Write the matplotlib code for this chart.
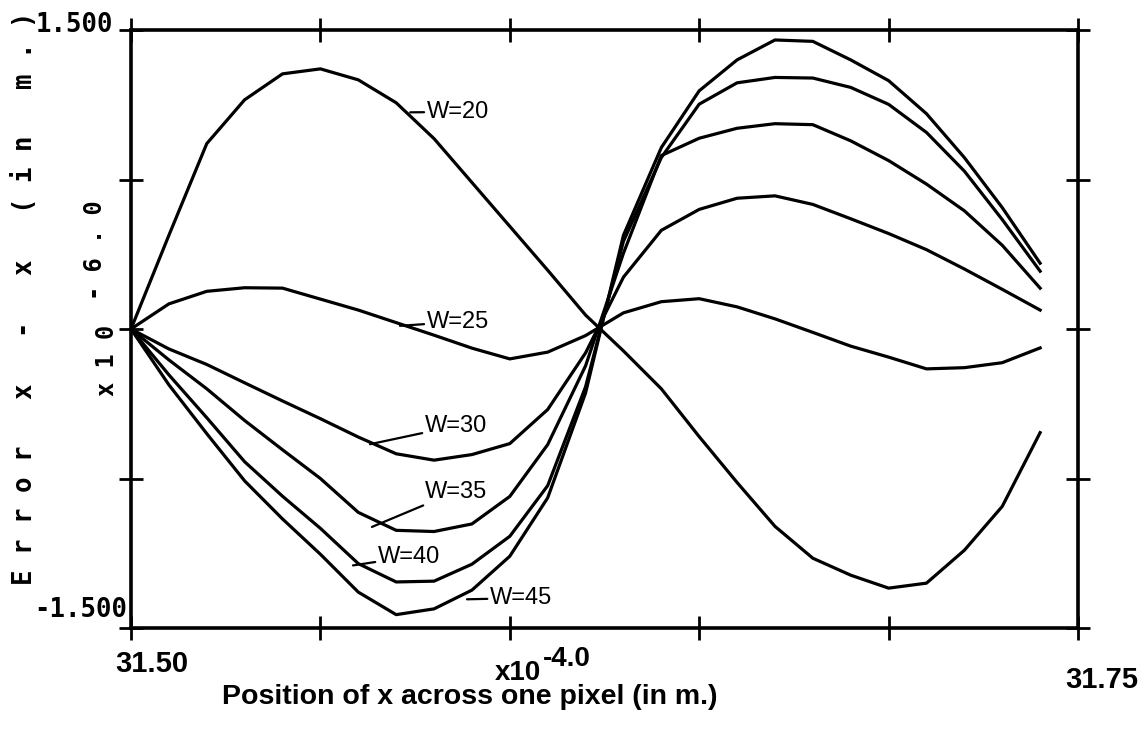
import matplotlib
matplotlib.use("Agg")
import matplotlib.pyplot as plt

# ---------------- data ----------------
x_pos = [31.50, 31.51, 31.52, 31.53, 31.54, 31.55, 31.56, 31.57, 31.58, 31.59,
         31.60, 31.61, 31.62, 31.63, 31.64, 31.65, 31.66, 31.67, 31.68, 31.69,
         31.70, 31.71, 31.72, 31.73, 31.74]

w20 = [0.00, 0.47, 0.93, 1.15, 1.28, 1.305, 1.25, 1.135, 0.955, 0.735,
       0.515, 0.295, 0.07, -0.11, -0.30, -0.54, -0.77, -0.99, -1.15, -1.235,
       -1.30, -1.275, -1.11, -0.89, -0.52]
w25 = [0.00, 0.126, 0.189, 0.207, 0.205, 0.15, 0.095, 0.032, -0.031, -0.096,
       -0.15, -0.116, -0.033, 0.081, 0.137, 0.152, 0.111, 0.051, -0.017, -0.086,
       -0.141, -0.20, -0.194, -0.169, -0.095]
w30 = [0.00, -0.10, -0.178, -0.27, -0.361, -0.45, -0.542, -0.626, -0.658, -0.63,
       -0.575, -0.404, -0.12, 0.26, 0.495, 0.60, 0.656, 0.668, 0.625, 0.553,
       0.479, 0.398, 0.301, 0.199, 0.095]
w35 = [0.00, -0.155, -0.30, -0.459, -0.606, -0.75, -0.92, -1.01, -1.016, -0.978,
       -0.84, -0.58, -0.185, 0.38, 0.87, 0.957, 1.007, 1.03, 1.025, 0.944,
       0.845, 0.727, 0.593, 0.42, 0.205]
w40 = [0.00, -0.23, -0.445, -0.666, -0.839, -1.00, -1.177, -1.269, -1.265, -1.18,
       -1.04, -0.786, -0.29, 0.44, 0.86, 1.128, 1.235, 1.262, 1.259, 1.212,
       1.127, 0.986, 0.792, 0.549, 0.29]
w45 = [0.00, -0.28, -0.525, -0.762, -0.953, -1.13, -1.32, -1.433, -1.404, -1.31,
       -1.14, -0.847, -0.321, 0.47, 0.91, 1.195, 1.35, 1.45, 1.443, 1.35,
       1.246, 1.08, 0.86, 0.609, 0.33]

series = [w20, w25, w30, w35, w40, w45]
series_labels = ["W=20", "W=25", "W=30", "W=35", "W=40", "W=45"]

# label anchor (point on curve) and text position, in data units
label_curve_x = [31.5737, 31.5710, 31.5631, 31.5636, 31.5586, 31.5887]
label_curve_y = [1.087, 0.016, -0.578, -0.993, -1.186, -1.356]
label_text_x = [31.5781, 31.5781, 31.5776, 31.5776, 31.5652, 31.5948]
label_text_y = [1.089, 0.036, -0.486, -0.816, -1.143, -1.350]

x_ticks = [31.50, 31.55, 31.60, 31.65, 31.70, 31.75]
y_ticks = [-1.5, -0.75, 0.0, 0.75, 1.5]
x_end_labels = ["31.50", "31.75"]
y_end_labels = ["1.500", "-1.500"]

# ---------------- figure ----------------
W, H = 1145, 732
fig = plt.figure(figsize=(W / 100, H / 100), dpi=100)
fig.patch.set_facecolor("white")


def P(px, py):
    return px / W, 1 - py / H


ax_left, ax_right, ax_top, ax_bottom = 131, 1078, 30, 628
ax = fig.add_axes([ax_left / W, 1 - ax_bottom / H,
                   (ax_right - ax_left) / W, (ax_bottom - ax_top) / H])
ax.set_xlim(31.50, 31.75)
ax.set_ylim(-1.5, 1.5)

for s in series:
    ax.plot(x_pos, s, color="black", lw=2.3, solid_joinstyle="round")

for sp in ax.spines.values():
    sp.set_linewidth(2.6)
    sp.set_color("black")

ax.set_xticks(x_ticks)
ax.set_yticks(y_ticks)
ax.tick_params(direction="inout", length=17, width=2.0, top=True, right=True,
               labelbottom=False, labelleft=False, color="black")

sans = ["Liberation Sans", "DejaVu Sans"]
mono = ["DejaVu Sans Mono"]

for lab, cx, cy, tx, ty in zip(series_labels, label_curve_x, label_curve_y,
                               label_text_x, label_text_y):
    ax.annotate(lab, xy=(cx, cy), xytext=(tx, ty), textcoords="data",
                ha="left", va="center", fontsize=17, family=sans,
                arrowprops=dict(arrowstyle="-", lw=1.6, color="black",
                                shrinkA=0, shrinkB=0))

# y end labels
fig.text(*P(113, 25), y_end_labels[0], ha="right", va="center",
         family=mono, fontweight="bold", fontsize=18.5)
fig.text(*P(127, 610), y_end_labels[1], ha="right", va="center",
         family=mono, fontweight="bold", fontsize=18.5)

# y multiplier, rotated
fig.text(*P(107, 360), "x 1 0", rotation=90, ha="center", va="center",
         family=mono, fontweight="bold", fontsize=17)
fig.text(*P(95, 250), "- 6 . 0", rotation=90, ha="center", va="center",
         family=mono, fontweight="bold", fontsize=17)

# y axis title
fig.text(*P(25, 298), "E r r o r   x   -   x   ( i n   m . )", rotation=90,
         ha="center", va="center", family=mono, fontweight="bold",
         fontsize=18.5)

# x end labels
fig.text(*P(152, 664), x_end_labels[0], ha="center", va="center",
         family=sans, fontweight="bold", fontsize=21)
fig.text(*P(1102, 680), x_end_labels[1], ha="center", va="center",
         family=sans, fontweight="bold", fontsize=21)

# x multiplier
fig.text(*P(495, 673), "x10", ha="left", va="center",
         family=sans, fontweight="bold", fontsize=20)
fig.text(*P(543, 659), "-4.0", ha="left", va="center",
         family=sans, fontweight="bold", fontsize=20)

# x axis title
fig.text(*P(470, 697), "Position of x across one pixel (in m.)",
         ha="center", va="center", family=sans, fontweight="bold",
         fontsize=20.5)

fig.savefig("out.png", dpi=100, facecolor="white")
